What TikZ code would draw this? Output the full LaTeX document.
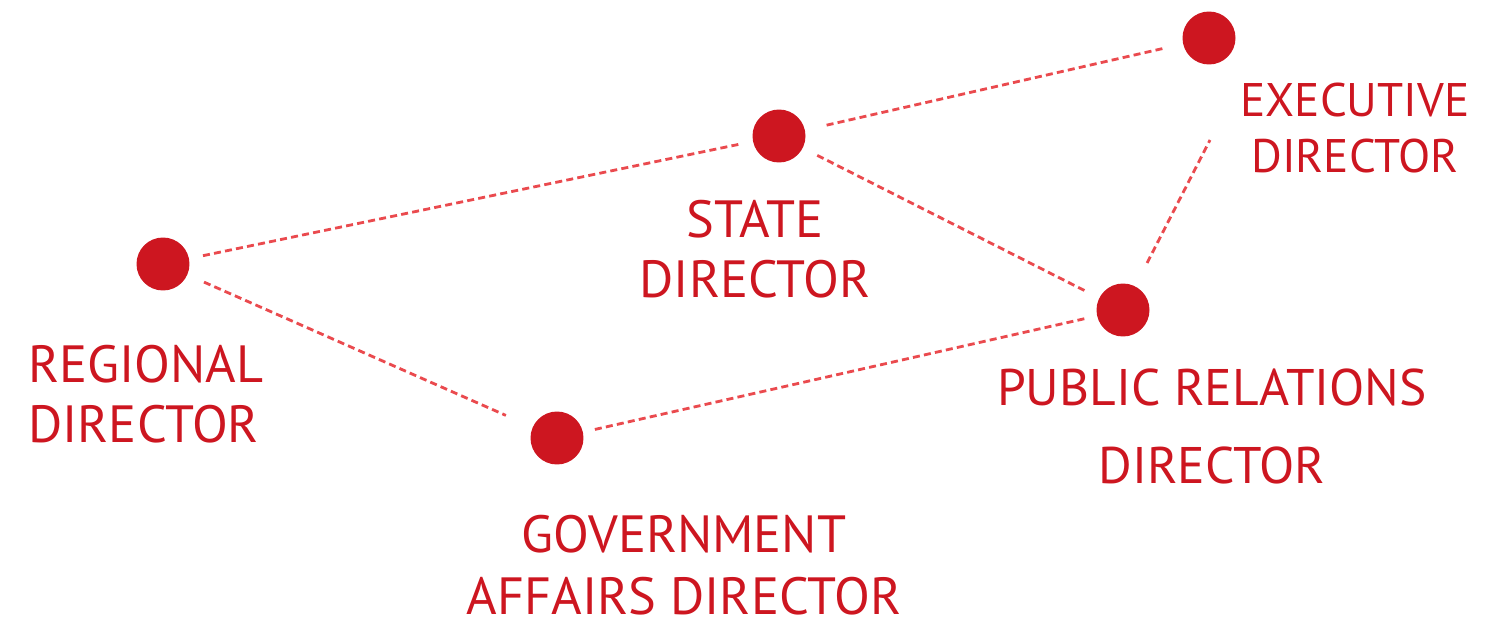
\documentclass[tikz,border=0pt]{standalone}
\usepackage{fontspec}
\setmainfont{PT Sans}
\usepackage{tikz}
\usetikzlibrary{positioning}
\definecolor{dotred}{HTML}{CD1620}
\definecolor{linkred}{HTML}{EA4A4E}
\tikzstyle{dot} = [circle,fill=dotred,inner sep=0pt,minimum size=1.06cm]
\tikzstyle{link} = [linkred,dash pattern=on 4pt off 2.4pt,line width=1.6pt]
\tikzstyle{lbl} = [text=dotred,inner sep=0pt,font=\fontsize{29.8}{34.2}\selectfont]

\begin{document}
\begin{tikzpicture}[x=0.02cm,y=-0.02cm]

	\useasboundingbox (0,0) rectangle (1492,622);

	\node[dot] (reg) at (163,264) {};
	\node[dot] (sta) at (779,136) {};
	\node[dot] (exe) at (1209,38) {};
	\node[dot] (pub) at (1123,310) {};
	\node[dot] (gov) at (557,438) {};

	\coordinate (exefoot) at (1210,140);

	\node[lbl,anchor=north west,align=left] (regL) at (28,345) {REGIONAL\\DIRECTOR};
	\node[lbl,anchor=north,align=center] (staL) at (755,200) {STATE\\DIRECTOR};
	\node[lbl,anchor=north,align=center,font=\fontsize{26.8}{31.7}\selectfont] (exeL) at (1355,83) {EXECUTIVE\\DIRECTOR};
	\node[lbl,anchor=north,align=center,font=\fontsize{29.3}{44.8}\selectfont] (pubL) at (1212,368) {PUBLIC RELATIONS\\DIRECTOR};
	\node[lbl,anchor=north,align=center,font=\fontsize{29.8}{35.1}\selectfont] (govL) at (684,515) {GOVERNMENT\\AFFAIRS DIRECTOR};

	% dotted links
	\draw[link,shorten <=0.28cm,shorten >=0.22cm] (reg) -- (sta);
	\draw[link,shorten <=0.36cm,shorten >=0.58cm] (reg) -- (gov);
	\draw[link,shorten <=0.24cm,shorten >=0.2cm] (gov) -- (pub);
	\draw[link,shorten <=0.32cm,shorten >=0.28cm] (sta) -- (pub);
	\draw[link,shorten <=0.44cm,shorten >=0.36cm] (sta) -- (exe);
	\draw[link,shorten <=0.52cm] (pub) -- (exefoot);

\end{tikzpicture}
\end{document}
